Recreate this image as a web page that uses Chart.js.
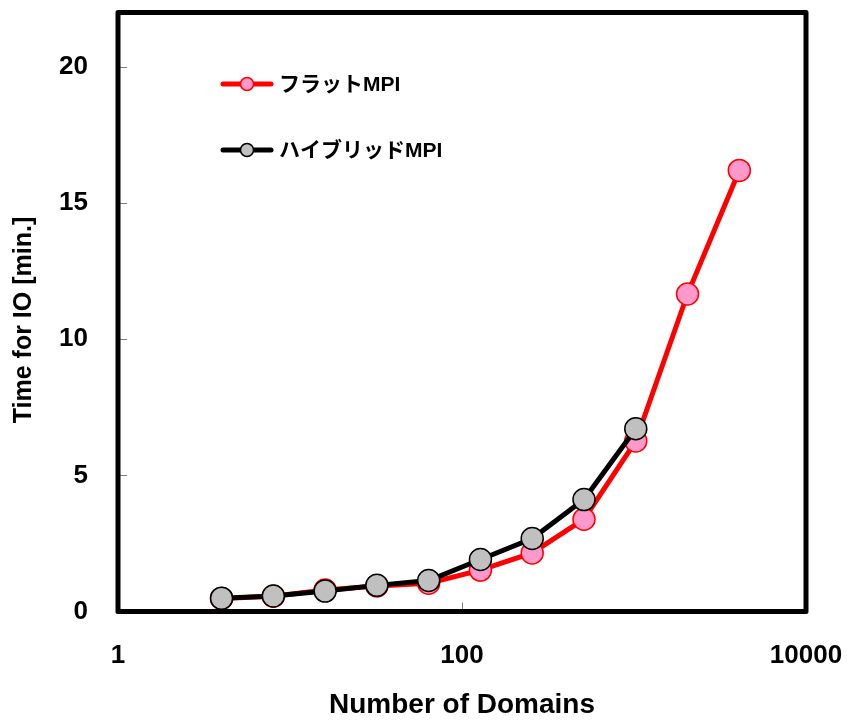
<!DOCTYPE html>
<html>
<head>
<meta charset="utf-8">
<script src="https://cdn.jsdelivr.net/npm/chart.js@4"></script>
<style>
  html,body{margin:0;padding:0;background:#fff;}
  #wrap{width:847px;height:722px;}
</style>
</head>
<body>
<div id="wrap"><canvas id="c" width="847" height="722"></canvas></div>
<script>
const domains = [4, 8, 16, 32, 64, 128, 256, 512, 1024, 2048, 4096];
const flatMPI = [0.48, 0.56, 0.79, 0.94, 1.04, 1.52, 2.15, 3.39, 6.26, 11.66, 16.2];
const hybridMPI = [0.49, 0.57, 0.75, 0.96, 1.14, 1.91, 2.68, 4.11, 6.71, null, null];
const seriesNames = ['フラットMPI', 'ハイブリッドMPI'];
const xTickValues = [1, 100, 10000];
const yTickValues = [0, 5, 10, 15, 20];
const xInnerTicks = [100];
const yInnerTicks = [5, 10, 15, 20];
const yTitle = 'Time for IO [min.]';

const LATIN = '"Liberation Sans", Arial, "Noto Sans CJK JP", sans-serif';

function zeroPad(s) {
  s.paddingLeft = 0; s.paddingRight = 0; s.paddingTop = 0; s.paddingBottom = 0;
}

const framePlugin = {
  id: 'frame',
  afterDatasetsDraw(chart) {
    const {ctx, chartArea: a, scales} = chart;
    ctx.save();
    ctx.strokeStyle = '#7f7f7f';
    ctx.lineWidth = 1;
    yInnerTicks.forEach(v => {
      const y = Math.round(scales.y.getPixelForValue(v)) + 0.5;
      ctx.beginPath(); ctx.moveTo(a.left, y); ctx.lineTo(a.left + 9, y); ctx.stroke();
    });
    xInnerTicks.forEach(v => {
      const x = Math.round(scales.x.getPixelForValue(v)) + 0.5;
      ctx.beginPath(); ctx.moveTo(x, a.bottom); ctx.lineTo(x, a.bottom - 9); ctx.stroke();
    });
    ctx.strokeStyle = '#000';
    ctx.lineWidth = 5;
    ctx.lineJoin = 'round';
    ctx.strokeRect(a.left, a.top, a.right - a.left, a.bottom - a.top);
    // legend
    const ys = [84, 150];
    chart.data.datasets.forEach((ds, i) => {
      const y = ys[i];
      ctx.strokeStyle = ds.borderColor;
      ctx.lineWidth = 5;
      ctx.lineCap = 'round';
      ctx.beginPath(); ctx.moveTo(223, y); ctx.lineTo(271, y); ctx.stroke();
      ctx.beginPath(); ctx.arc(247, y, 6.5, 0, Math.PI * 2);
      ctx.fillStyle = ds.pointBackgroundColor; ctx.fill();
      ctx.lineWidth = 1.5; ctx.strokeStyle = ds.pointBorderColor; ctx.stroke();
      ctx.fillStyle = '#000';
      ctx.font = 'bold 21px ' + LATIN;
      ctx.textBaseline = 'middle';
      ctx.textAlign = 'left';
      ctx.fillText(ds.label, 279, y + 1);
    });
    // y axis title
    ctx.translate(24, 320);
    ctx.rotate(-Math.PI / 2);
    ctx.fillStyle = '#000';
    ctx.font = 'bold 25px ' + LATIN;
    ctx.textAlign = 'center';
    ctx.textBaseline = 'middle';
    ctx.fillText(yTitle, 0, 0);
    ctx.restore();
  }
};

new Chart(document.getElementById('c'), {
  type: 'line',
  data: {
    labels: domains,
    datasets: [
      {
        label: seriesNames[0],
        data: domains.map((d, i) => ({x: d, y: flatMPI[i]})),
        borderColor: '#ff0000',
        borderWidth: 5,
        pointBackgroundColor: '#ff99cc',
        pointBorderColor: '#ff0000',
        pointBorderWidth: 1.5,
        pointRadius: 11,
        tension: 0,
        order: 2
      },
      {
        label: seriesNames[1],
        data: domains.map((d, i) => ({x: d, y: hybridMPI[i]})),
        borderColor: '#000000',
        borderWidth: 5,
        pointBackgroundColor: '#c0c0c0',
        pointBorderColor: '#000000',
        pointBorderWidth: 1.5,
        pointRadius: 11,
        tension: 0,
        spanGaps: false,
        order: 1
      }
    ]
  },
  options: {
    responsive: false,
    animation: false,
    clip: false,
    layout: {padding: {left: 0, right: 41, top: 11.5, bottom: 0}},
    plugins: {legend: {display: false}, tooltip: {enabled: false}},
    scales: {
      x: {
        type: 'logarithmic',
        min: 1, max: 10000,
        afterBuildTicks: s => { s.ticks = xTickValues.map(v => ({value: v})); },
        afterFit: s => { s.height = 110.5; zeroPad(s); },
        grid: {display: false},
        border: {display: false},
        ticks: {
          color: '#000', padding: 21, maxRotation: 0,
          font: {family: LATIN, size: 26, weight: 'bold'},
          callback: v => String(v)
        },
        title: {
          display: true, text: 'Number of Domains', color: '#000',
          font: {family: LATIN, size: 28, weight: 'bold'},
          padding: {top: 0, bottom: 0}
        }
      },
      y: {
        type: 'linear',
        min: 0, max: 22,
        afterBuildTicks: s => { s.ticks = yTickValues.map(v => ({value: v})); },
        afterFit: s => { s.width = 118; zeroPad(s); },
        grid: {display: false},
        border: {display: false},
        ticks: {
          color: '#000', padding: 22,
          font: {family: LATIN, size: 26, weight: 'bold'}
        },
        title: {display: false}
      }
    }
  },
  plugins: [framePlugin]
});
</script>
</body>
</html>
